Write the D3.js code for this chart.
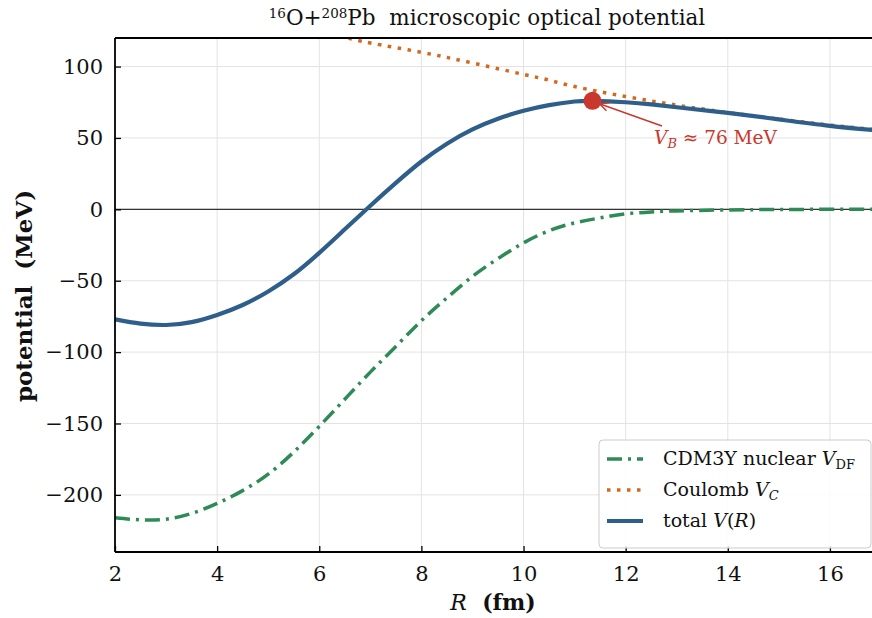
<!DOCTYPE html>
<html>
<head>
<meta charset="utf-8">
<script src="https://cdn.jsdelivr.net/npm/d3@7"></script>
<style>
  body { margin: 0; background: #fff; }
  svg { font-family: "DejaVu Serif", serif; }
</style>
</head>
<body>
<svg width="872" height="618"></svg>
<script>
// values (R in fm, V in MeV)
var rTotal = [2, 2.5, 3, 3.5, 4, 4.5, 5, 5.5, 6, 6.5, 7, 7.5, 8, 8.5, 9, 9.5, 10, 10.5, 11, 11.35, 12, 12.5, 13, 14, 15, 16, 17];
var vTotal = [-77, -80, -81, -79, -74, -67, -57.5, -45.5, -30.5, -14, 2.5, 18.5, 33.5, 46, 56, 63.5, 69, 73, 75.5, 76, 75, 73.5, 71.5, 67.5, 63, 58.5, 55];

var rNuc = [2, 2.5, 3, 3.5, 4, 4.5, 5, 5.5, 6, 6.5, 7, 7.5, 8, 8.5, 9, 9.5, 10, 10.5, 11, 11.5, 12, 12.5, 13, 14, 15, 16, 17];
var vNuc = [-216, -217.5, -217, -213, -206, -197, -185.5, -170, -152, -133, -114, -96, -78, -62, -47, -34.5, -23.5, -15, -9.5, -6, -3.2, -1.8, -1.1, -0.4, -0.1, 0, 0];

var rCoul = [6, 6.5, 7, 8, 9, 10, 10.5, 11, 12, 13, 14, 15, 16, 17];
var vCoul = [124, 120.5, 116.5, 110, 102.5, 94.5, 90.5, 86, 79, 73, 67.8, 63.2, 59, 55.5];

var barrier = {r: 11.35, v: 76};

var xTicks = [2, 4, 6, 8, 10, 12, 14, 16];
var yTicks = [-200, -150, -100, -50, 0, 50, 100];

var svg = d3.select("svg");
var pL = 115, pT = 38, pB = 552, pR = 881;

var x = d3.scaleLinear().domain([2, 17]).range([pL, pR]);
var y = d3.scaleLinear().domain([-240, 120]).range([pB, pT]);

svg.append("defs").append("clipPath").attr("id", "clip")
  .append("rect").attr("x", pL).attr("y", pT)
  .attr("width", pR - pL).attr("height", pB - pT);

// grid
var grid = svg.append("g");
grid.selectAll(".gx").data(xTicks).enter().append("line")
  .attr("x1", x).attr("x2", x).attr("y1", pT).attr("y2", pB)
  .attr("stroke", "#e3e3e3").attr("stroke-width", 1);
grid.selectAll(".gy").data(yTicks).enter().append("line")
  .attr("x1", pL).attr("x2", pR).attr("y1", y).attr("y2", y)
  .attr("stroke", "#e3e3e3").attr("stroke-width", 1);

// zero line
svg.append("line")
  .attr("x1", pL).attr("x2", pR).attr("y1", y(0)).attr("y2", y(0))
  .attr("stroke", "#333").attr("stroke-width", 1.2);

var plot = svg.append("g").attr("clip-path", "url(#clip)");

function lineOf(rs) {
  return d3.line()
    .x(function(d, i) { return x(rs[i]); })
    .y(function(d) { return y(d); })
    .curve(d3.curveNatural);
}

var green = "#2e8b57", orange = "#d2691e", blue = "#2e5e8a", red = "#c8382c";

plot.append("path").attr("d", lineOf(rNuc)(vNuc))
  .attr("fill", "none").attr("stroke", green).attr("stroke-width", 3.5)
  .attr("stroke-dasharray", "15,6,3,6");

plot.append("path").attr("d", lineOf(rCoul)(vCoul))
  .attr("fill", "none").attr("stroke", orange).attr("stroke-width", 3.5)
  .attr("stroke-dasharray", "3.5,6.5");

plot.append("path").attr("d", lineOf(rTotal)(vTotal))
  .attr("fill", "none").attr("stroke", blue).attr("stroke-width", 4.2);

// barrier marker + annotation
plot.append("circle").attr("cx", x(barrier.r)).attr("cy", y(barrier.v)).attr("r", 9)
  .attr("fill", red);

var ax = x(barrier.r) + 7, ay = y(barrier.v) + 3;
svg.append("line").attr("x1", 662).attr("y1", 126).attr("x2", ax).attr("y2", ay)
  .attr("stroke", red).attr("stroke-width", 1.5);
svg.append("path")
  .attr("d", "M" + ax + "," + ay + " l10,-1 M" + ax + "," + ay + " l7,7")
  .attr("stroke", red).attr("stroke-width", 1.5).attr("fill", "none");

var ann = svg.append("text").attr("x", 654).attr("y", 144)
  .attr("fill", red).attr("font-size", 18.5);
ann.append("tspan").attr("font-style", "italic").text("V");
ann.append("tspan").attr("font-style", "italic").attr("font-size", 13).attr("dy", 4).text("B");
ann.append("tspan").attr("dy", -4).text(" \u2248 76 MeV");

// axes frame
svg.append("line").attr("x1", pL).attr("x2", pR).attr("y1", pT).attr("y2", pT)
  .attr("stroke", "#000").attr("stroke-width", 1.8);
svg.append("line").attr("x1", pL).attr("x2", pR).attr("y1", pB).attr("y2", pB)
  .attr("stroke", "#000").attr("stroke-width", 1.8);
svg.append("line").attr("x1", pL).attr("x2", pL).attr("y1", pT).attr("y2", pB)
  .attr("stroke", "#000").attr("stroke-width", 1.8);

// ticks (inward)
var xAxis = svg.append("g").attr("transform", "translate(0," + pB + ")")
  .call(d3.axisBottom(x).tickValues(xTicks).tickSizeInner(-6).tickSizeOuter(0).tickPadding(14));
var yAxis = svg.append("g").attr("transform", "translate(" + pL + ",0)")
  .call(d3.axisLeft(y).tickValues(yTicks).tickSizeInner(-6).tickSizeOuter(0).tickPadding(12));
[xAxis, yAxis].forEach(function(a) {
  a.select(".domain").remove();
  a.selectAll(".tick line").attr("stroke", "#000").attr("stroke-width", 1.3);
  a.selectAll(".tick text").attr("font-family", "DejaVu Serif, serif")
    .attr("font-size", 21).attr("fill", "#111");
});

// title
var title = svg.append("text").attr("x", 487).attr("y", 25).attr("text-anchor", "middle")
  .attr("font-size", 21.5).attr("fill", "#111");
title.append("tspan").attr("font-size", 13.5).attr("dy", -7).text("16");
title.append("tspan").attr("dy", 7).text("O+");
title.append("tspan").attr("font-size", 13.5).attr("dy", -7).text("208");
title.append("tspan").attr("dy", 7).text("Pb\u00a0\u00a0microscopic optical potential");

// axis labels
var xl = svg.append("text").attr("x", 493).attr("y", 610).attr("text-anchor", "middle")
  .attr("font-size", 22).attr("fill", "#111");
xl.append("tspan").attr("font-style", "italic").text("R");
xl.append("tspan").attr("font-weight", "bold").text("\u00a0\u00a0(fm)");

svg.append("text").attr("transform", "translate(32,296) rotate(-90)")
  .attr("text-anchor", "middle").attr("font-size", 23).attr("font-weight", "bold")
  .attr("fill", "#111").text("potential\u00a0\u00a0(MeV)");

// legend
var lg = svg.append("g").attr("transform", "translate(599,440)");
lg.append("rect").attr("width", 272).attr("height", 108).attr("rx", 4)
  .attr("fill", "#fff").attr("fill-opacity", 0.85).attr("stroke", "#ccc");
var items = [
  {c: green, w: 3.5, dash: "15,6,3,6", label: [["CDM3Y nuclear ", ""], ["V", "i"], ["DF", "sub"]]},
  {c: orange, w: 3.5, dash: "3.5,6.5", label: [["Coulomb ", ""], ["V", "i"], ["C", "isub"]]},
  {c: blue, w: 4.2, dash: null, label: [["total ", ""], ["V", "i"], ["(", ""], ["R", "i"], [")", ""]]}
];
items.forEach(function(it, i) {
  var yy = 19 + i * 31;
  lg.append("line").attr("x1", 8).attr("x2", 44).attr("y1", yy).attr("y2", yy)
    .attr("stroke", it.c).attr("stroke-width", it.w)
    .attr("stroke-dasharray", it.dash);
  var t = lg.append("text").attr("x", 64).attr("y", yy + 6).attr("font-size", 19).attr("fill", "#111");
  var shifted = false;
  it.label.forEach(function(p) {
    var s = t.append("tspan").text(p[0]);
    if (p[1] === "i" || p[1] === "isub") s.attr("font-style", "italic");
    if (p[1] === "sub" || p[1] === "isub") {
      s.attr("font-size", 13).attr("dy", 4); shifted = true;
    } else if (shifted) { s.attr("dy", -4); shifted = false; }
  });
});
</script>
</body>
</html>
